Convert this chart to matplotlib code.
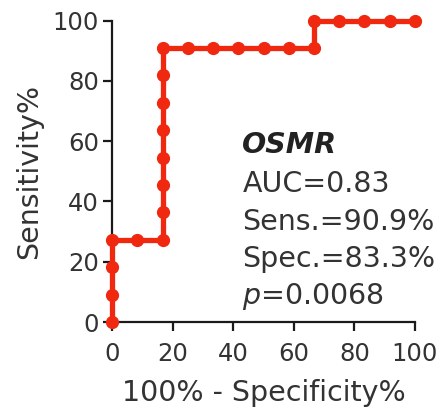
# ROC curve for OSMR, step plot with a dot at every threshold.

import matplotlib.pyplot as plt

# 100% - specificity (x) and sensitivity (y), in percent
fpr = [0, 0, 0, 0, 8.33, 16.67, 16.67, 16.67, 16.67, 16.67, 16.67, 16.67, 16.67,
       25.0, 33.33, 41.67, 50.0, 58.33, 66.67, 66.67, 75.0, 83.33, 91.67, 100]
tpr = [0, 9.09, 18.18, 27.27, 27.27, 27.27, 36.36, 45.45, 54.55, 63.64, 72.73, 81.82, 90.91,
       90.91, 90.91, 90.91, 90.91, 90.91, 90.91, 100, 100, 100, 100, 100]

ticks = [0, 20, 40, 60, 80, 100]
gene = "OSMR"
stats = ["AUC=0.83", "Sens.=90.9%", "Spec.=83.3%"]
pval = "0.0068"

red = "#f0280f"
ink = "#333333"

plt.rcParams["font.family"] = ["DejaVu Sans"]

fig = plt.figure(figsize=(4.43, 4.16), dpi=100)
ax = fig.add_axes([112 / 443, 1 - 322 / 416, 303 / 443, 301.3 / 416])

ax.plot(fpr, tpr, color=red, lw=3.8, marker="o", markersize=8.5,
        clip_on=False, zorder=3, solid_joinstyle="miter")

ax.set_xlim(0, 100)
ax.set_ylim(0, 100)
ax.set_xticks(ticks)
ax.set_yticks(ticks)
for side in ["top", "right"]:
    ax.spines[side].set_visible(False)
for side in ["left", "bottom"]:
    ax.spines[side].set_linewidth(1.6)
    ax.spines[side].set_color("#1a1a1a")
ax.tick_params(axis="both", width=1.6, length=6.5, color="#1a1a1a",
               labelsize=17.5, labelcolor=ink)
ax.tick_params(axis="x", pad=8)
ax.tick_params(axis="y", pad=3)

ax.set_xlabel("100% - Specificity%", fontsize=20.5, color=ink, labelpad=9)
ax.set_ylabel("Sensitivity%", fontsize=20.5, color=ink, labelpad=7)

# annotation block, one line per statistic
tx = 43
ax.text(tx, 56.1, gene, fontsize=20.5, fontweight="bold", fontstyle="italic",
        color="#222222", va="baseline")
for y, s in zip([43.0, 30.6, 18.4], stats):
    ax.text(tx, y, s, fontsize=20.5, color=ink, va="baseline")
ax.text(tx, 6.1, "$\\it{p}$=" + pval, fontsize=20.5, color=ink, va="baseline")

fig.savefig("out.png", dpi=100)
